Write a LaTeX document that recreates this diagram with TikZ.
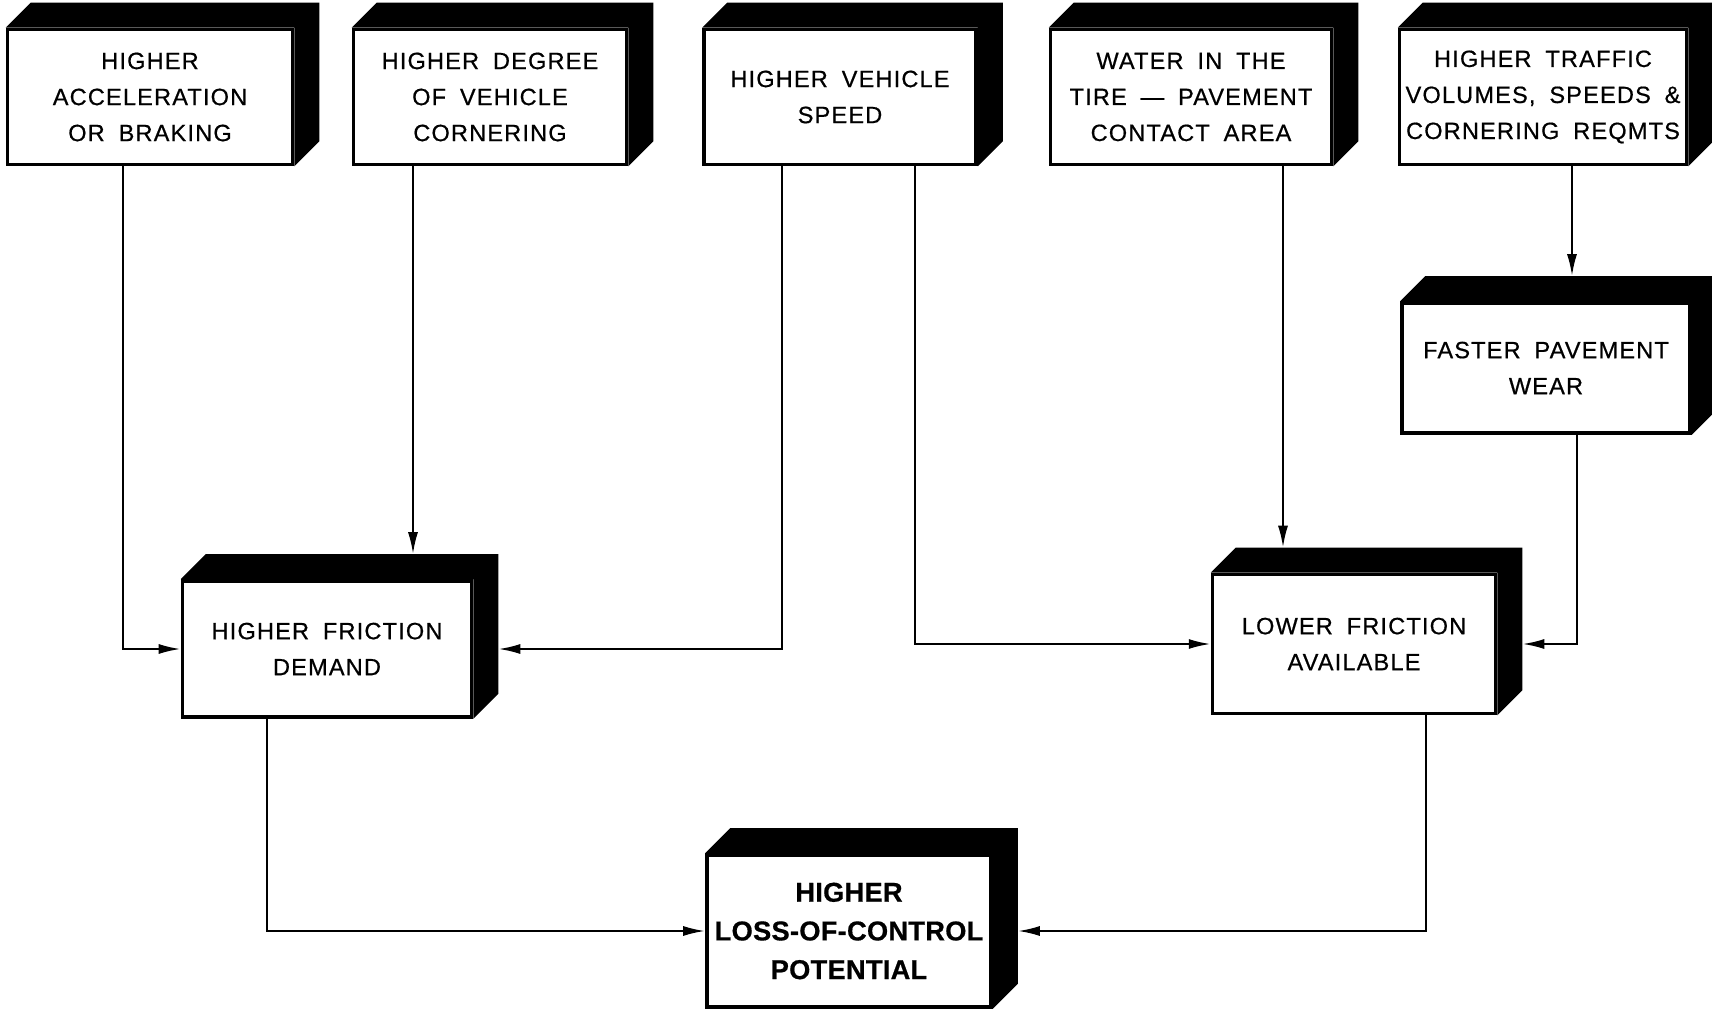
\documentclass[tikz,border=0pt]{standalone}
\usepackage{fontspec}
\setmainfont{Liberation Sans}[LetterSpace=5,WordSpace=1.8,FakeBold=0.6]
\usetikzlibrary{arrows.meta,calc}

\begin{document}
\begin{tikzpicture}[
  x=0.2mm, y=-0.2mm,
  blk/.style={rectangle, draw, line width=2pt, fill=white, align=center, inner sep=0pt,
    minimum width=5.7cm, minimum height=2.7cm, font=\fontsize{13.4}{20.5}\selectfont},
  arrow/.style={-{Latex[length=4.4mm,width=2mm]}, line width=1.3pt},
]
\useasboundingbox[fill=white] (0,0) rectangle (1712,1012);

% === Causes ===
\node[blk] (accel) at (150,97) {HIGHER\\ACCELERATION\\OR BRAKING};
\node[blk, minimum width=5.46cm] (corner) at (490,97) {HIGHER DEGREE\\OF VEHICLE\\CORNERING};
\node[blk, minimum width=5.44cm] (speed) at (840,97) {HIGHER VEHICLE\\SPEED};
\node[blk, minimum width=5.62cm] (water) at (1191,97) {WATER IN THE\\TIRE --- PAVEMENT\\CONTACT AREA};
\node[blk, minimum width=5.74cm] (traffic) at (1543,97) {HIGHER TRAFFIC\\VOLUMES, SPEEDS \&\\CORNERING REQMTS};
\node[blk, minimum width=5.76cm, minimum height=2.6cm] (wear) at (1546,368) {FASTER PAVEMENT\\WEAR};

% === Effects ===
\node[blk, minimum width=5.78cm, minimum height=2.72cm] (demand) at (327,649) {HIGHER FRICTION\\DEMAND};
\node[blk, minimum width=5.66cm, minimum height=2.78cm] (avail) at (1354,644) {LOWER FRICTION\\AVAILABLE};
\node[blk, minimum width=5.68cm, minimum height=3.04cm,
  font=\bfseries\fontsize{15.5}{22}\selectfont\addfontfeature{LetterSpace=1}] (loss) at (849,931)
  {HIGHER\\LOSS-OF-CONTROL\\POTENTIAL};

% === 3D block sides ===
\foreach \n in {accel,corner,speed,water,traffic,wear,demand,avail,loss}
  \fill (\n.north west) -- ++(25,-25) -- ($(\n.north east)+(25,-25)$)
    -- ($(\n.south east)+(25,-25)$) -- (\n.south east) -- (\n.north east) -- cycle;

\coordinate (demandtop) at ($(demand.north)+(0,-25)$);
\coordinate (demandside) at ($(demand.east)+(25,0)$);
\coordinate (availtop) at ($(avail.north)+(0,-25)$);
\coordinate (availside) at ($(avail.east)+(25,0)$);
\coordinate (weartop) at ($(wear.north)+(0,-25)$);
\coordinate (lossside) at ($(loss.east)+(25,0)$);

% === Connectors ===
\draw[arrow] ($(accel.south)+(-27,0)$) |- (demand.west);
\draw[arrow] ($(corner.south)+(-77,0)$) coordinate (c2) -- (c2 |- demandtop);
\draw[arrow] ($(speed.south)+(-58,0)$) |- (demandside);
\draw[arrow] ($(speed.south)+(75,0)$) |- (avail.west);
\draw[arrow] ($(water.south)+(92,0)$) coordinate (c4) -- (c4 |- availtop);
\draw[arrow] ($(traffic.south)+(29,0)$) coordinate (c5) -- (c5 |- weartop);
\draw[arrow] ($(wear.south)+(31,0)$) |- (availside);
\draw[arrow] ($(demand.south)+(-60,0)$) |- (loss.west);
\draw[arrow] ($(avail.south)+(72,0)$) |- (lossside);

\end{tikzpicture}
\end{document}
